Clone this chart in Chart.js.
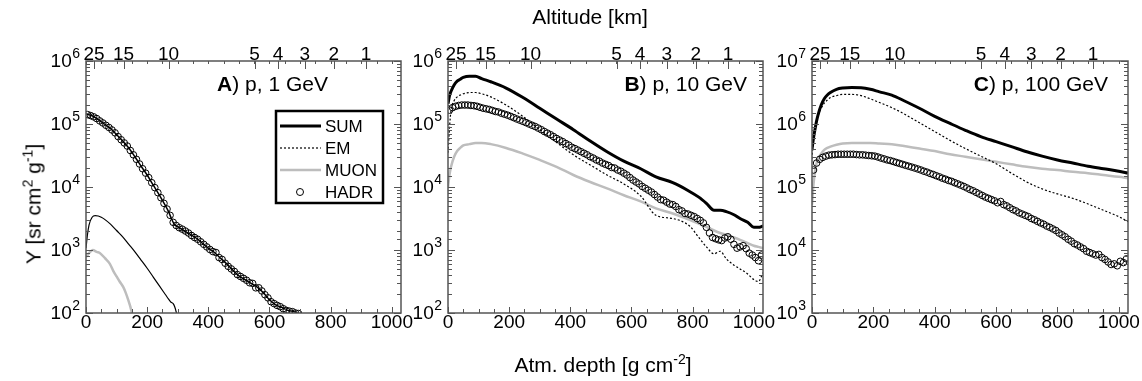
<!DOCTYPE html>
<html>
<head>
<meta charset="utf-8">
<script src="https://cdn.jsdelivr.net/npm/chart.js@4.4.1/dist/chart.umd.min.js"></script>
<style>
  body { margin: 0; background: #fff; width: 1142px; height: 381px; overflow: hidden; position: relative;
         font-family: "Liberation Sans", Arial, Helvetica, sans-serif; }
  canvas { position: absolute; top: 30px; }
  .lbl { position: absolute; font-size: 21px; line-height: 1; color: #000; white-space: nowrap; }
  .lbl sup { font-size: 14px; vertical-align: 0.55em; line-height: 0; }
</style>
</head>
<body>
<canvas id="pA" width="390" height="320" style="left:30px"></canvas>
<canvas id="pB" width="390" height="320" style="left:392px"></canvas>
<canvas id="pC" width="386" height="320" style="left:756px"></canvas>
<div class="lbl" style="left:590px;top:16px;transform:translate(-50%,-50%)">Altitude [km]</div>
<div class="lbl" style="left:603px;top:364px;transform:translate(-50%,-50%)">Atm. depth [g cm<sup>-2</sup>]</div>
<div class="lbl" style="left:33px;top:204px;transform:translate(-50%,-50%) rotate(-90deg)">Y [sr cm<sup>2</sup> g<sup>-1</sup>]</div>
<script>
// ---- data (depth in g/cm2, Y in sr cm2 g-1) ----
const seriesNames = ['SUM', 'EM', 'MUON', 'HADR'];

// bottom axis labels, top axis altitude labels and the depth they sit at
const depthTicks = [0, 200, 400, 600, 800, 1000];
const altLabels = ['25', '15', '10', '5', '4', '3', '2', '1'];
const altDepth = [26, 123, 270, 551, 628, 715, 810, 916];

// panel A: p, 1 GeV
const hadrDepthA = [5,15,25,35,45,55,65,75,85,95,105,115,125,135,145,155,165,175,185,195,
  205,215,225,235,245,255,265,275,285,295,305,315,325,335,345,355,365,375,385,395,
  405,415,425,435,445,455,465,475,485,495,505,515,525,535,545,555,565,575,585,595,
  605,615,625,635,645,655,665,675,685,695];
const hadrA = [1.41e5,1.36e5,1.30e5,1.22e5,1.12e5,1.04e5,9.55e4,8.81e4,8.04e4,7.24e4,
  6.31e4,5.62e4,5.01e4,4.47e4,3.80e4,3.24e4,2.75e4,2.32e4,1.95e4,1.66e4,
  1.41e4,1.17e4,9.77e3,8.13e3,6.76e3,5.50e3,4.47e3,3.55e3,2.75e3,2.45e3,
  2.26e3,2.14e3,2.00e3,1.86e3,1.70e3,1.58e3,1.48e3,1.35e3,1.23e3,1.12e3,
  1.02e3,944,912,759,708,617,550,501,457,407,
  380,355,331,302,295,251,251,224,195,174,
  151,141,132,126,117,110,107,105,100,98];
const sumDepthA = [0,20,40,60,80,100,120,140,160,180,200,220,240,260,270,280,290,300,320,340,
  360,380,400,420,440,460,480,500,520,540,560,580,600,620,640,660,680,700,720];
const sumA = [1.45e5,1.35e5,1.17e5,1.00e5,8.51e4,6.76e4,5.37e4,4.17e4,3.02e4,2.14e4,
  1.55e4,1.07e4,7.41e3,5.01e3,4.07e3,3.09e3,2.51e3,2.34e3,2.04e3,1.78e3,
  1.55e3,1.29e3,1.07e3,912,741,603,479,389,339,295,
  257,209,162,135,123,110,105,95,79];
const emDepthA = [0,5,10,20,30,40,50,60,80,100,120,140,160,180,200,220,240,260,270,278,285,290,296];
const emA = [1070,1780,2510,3310,3510,3470,3310,3090,2570,2040,1620,1230,933,692,513,372,269,195,166,148,141,126,100];
const muonDepthA = [0,10,22,35,46,62,78,90,100,110,122,130,138,145,150];
const muonA = [776,891,1000,933,891,741,603,457,380,316,257,209,162,126,100];

// panels B and C share the hadron sampling depths
const hadrDepthBC = [5,15,25,35,45,55,65,75,85,95,105,115,125,135,145,155,165,175,185,195,
  205,215,225,235,245,255,265,275,285,295,305,315,325,335,345,355,365,375,385,395,
  405,415,425,435,445,455,465,475,485,495,505,515,525,535,545,555,565,575,585,595,
  605,615,625,635,645,655,665,675,685,695,705,715,725,735,745,755,765,775,785,795,
  805,815,825,835,845,855,865,875,885,895,905,915,925,935,945,955,965,975,985,995,
  1005,1015,1025];

// panel B: p, 10 GeV
const lineDepthB = [0,5,10,20,30,40,50,70,90,110,140,190,245,300,355,410,465,520,575,630,
  680,735,790,820,845,870,890,910,935,955,980,1000,1015,1030];
const sumB = [2.09e5,2.82e5,3.31e5,4.17e5,4.79e5,5.13e5,5.50e5,5.75e5,5.75e5,5.25e5,
  4.68e5,3.72e5,2.63e5,1.78e5,1.20e5,8.13e4,5.37e4,3.63e4,2.57e4,1.95e4,
  1.45e4,1.17e4,8.50e3,6.90e3,5.50e3,4.27e3,4.27e3,4.07e3,3.63e3,3.16e3,
  2.75e3,2.29e3,2.29e3,2.40e3];
const emB = [3.5e4,8.9e4,1.66e5,2.34e5,2.69e5,2.88e5,3.02e5,3.16e5,3.16e5,3.02e5,
  2.69e5,2.00e5,1.32e5,8.10e4,5.10e4,3.24e4,2.24e4,1.55e4,1.12e4,7.20e3,
  3.55e3,3.16e3,2.40e3,1.58e3,1.12e3,870,955,724,575,500,
  417,339,316,437];
const muonB = [1.00e4,1.58e4,2.09e4,3.02e4,3.72e4,4.17e4,4.57e4,4.79e4,5.00e4,5.00e4,
  4.79e4,4.17e4,3.39e4,2.69e4,2.09e4,1.55e4,1.20e4,9.50e3,7.40e3,5.90e3,
  4.57e3,3.80e3,3.00e3,2.63e3,2.34e3,2.04e3,1.86e3,1.74e3,1.58e3,1.45e3,
  1.29e3,1.17e3,1.12e3,1.07e3];
const hadrB = [1.66e5,1.82e5,1.91e5,1.97e5,2.00e5,2.00e5,2.00e5,1.97e5,1.95e5,1.91e5,
  1.84e5,1.78e5,1.74e5,1.70e5,1.64e5,1.58e5,1.55e5,1.48e5,1.43e5,1.38e5,
  1.32e5,1.26e5,1.20e5,1.15e5,1.10e5,1.05e5,1.00e5,9.55e4,9.12e4,8.61e4,
  8.13e4,7.59e4,7.16e4,6.76e4,6.31e4,5.89e4,5.56e4,5.25e4,4.90e4,4.62e4,
  4.27e4,4.07e4,3.85e4,3.63e4,3.43e4,3.24e4,3.02e4,2.88e4,2.69e4,2.57e4,
  2.40e4,2.29e4,2.19e4,2.04e4,2.00e4,1.86e4,1.78e4,1.66e4,1.55e4,1.41e4,
  1.29e4,1.20e4,1.12e4,1.02e4,9.55e3,8.91e3,8.32e3,7.59e3,6.92e3,6.31e3,
  6.17e3,5.75e3,5.37e3,5.25e3,4.90e3,4.37e3,4.17e3,3.80e3,3.72e3,3.55e3,
  3.39e3,3.16e3,2.95e3,2.69e3,2.29e3,1.86e3,1.58e3,1.51e3,1.45e3,1.41e3,
  1.55e3,1.62e3,1.48e3,1.23e3,1.07e3,1.12e3,1.17e3,1.05e3,891,832,
  759,676,832];

// panel C: p, 100 GeV
const lineDepthC = [0,5,10,15,20,30,40,50,60,80,100,130,160,190,220,260,300,350,400,450,
  500,550,600,650,700,750,800,850,900,950,1000,1030];
const sumC = [3.98e5,6.03e5,8.32e5,1.12e6,1.41e6,2.00e6,2.51e6,2.88e6,3.16e6,3.55e6,
  3.72e6,3.80e6,3.76e6,3.55e6,3.24e6,2.88e6,2.34e6,1.78e6,1.32e6,1.02e6,
  7.94e5,6.31e5,5.25e5,4.37e5,3.63e5,3.09e5,2.69e5,2.40e5,2.14e5,1.95e5,
  1.78e5,1.66e5];
const emC = [2.82e5,5.62e5,8.51e5,1.12e6,1.35e6,1.78e6,2.14e6,2.40e6,2.63e6,2.82e6,
  2.95e6,2.95e6,2.82e6,2.51e6,2.19e6,1.82e6,1.45e6,1.05e6,7.59e5,5.50e5,
  4.07e5,3.09e5,2.34e5,1.66e5,1.20e5,9.33e4,7.76e4,6.61e4,5.37e4,4.27e4,
  3.39e4,2.82e4];
const muonC = [5.25e4,1.12e5,1.78e5,2.40e5,2.82e5,3.39e5,3.89e5,4.17e5,4.37e5,4.68e5,
  4.90e5,5.01e5,5.01e5,5.01e5,4.90e5,4.79e5,4.47e5,4.07e5,3.72e5,3.31e5,
  3.02e5,2.75e5,2.51e5,2.29e5,2.09e5,1.95e5,1.86e5,1.74e5,1.66e5,1.55e5,
  1.45e5,1.38e5];
const hadrC = [1.86e5,2.40e5,2.75e5,2.95e5,3.09e5,3.20e5,3.24e5,3.27e5,3.31e5,3.31e5,
  3.31e5,3.31e5,3.31e5,3.31e5,3.27e5,3.24e5,3.24e5,3.20e5,3.16e5,3.13e5,
  3.09e5,2.99e5,2.88e5,2.79e5,2.69e5,2.63e5,2.54e5,2.45e5,2.37e5,2.29e5,
  2.21e5,2.14e5,2.07e5,2.00e5,1.93e5,1.86e5,1.78e5,1.72e5,1.64e5,1.58e5,
  1.51e5,1.45e5,1.38e5,1.33e5,1.27e5,1.23e5,1.17e5,1.12e5,1.07e5,1.02e5,
  9.66e4,9.12e4,8.71e4,8.22e4,7.76e4,7.33e4,6.92e4,6.61e4,6.31e4,6.03e4,
  5.62e4,5.89e4,5.25e4,5.01e4,4.68e4,4.37e4,4.17e4,3.89e4,3.72e4,3.55e4,
  3.39e4,3.16e4,3.02e4,2.85e4,2.69e4,2.57e4,2.40e4,2.29e4,2.16e4,2.04e4,
  1.86e4,1.74e4,1.62e4,1.48e4,1.38e4,1.26e4,1.20e4,1.12e4,1.05e4,9.55e3,
  9.12e3,8.71e3,8.32e3,8.51e3,7.59e3,7.08e3,6.46e3,5.89e3,6.03e3,5.62e3,
  6.61e3,6.31e3,7.24e3];

// ---- drawing ----
const FONT = '"Liberation Sans", Arial, Helvetica, sans-serif';
Chart.defaults.font.family = FONT;
Chart.defaults.color = '#000';
const MUON_GREY = '#bdbdbd';

function pts(xs, ys) {
  return ys.map((y, i) => ({ x: xs[i], y: y }));
}

// frame, inward ticks, 10^n labels, panel tag and legend
const frame = {
  id: 'frame',
  afterDraw(chart, args, o) {
    const { ctx, chartArea: a } = chart;
    const x = chart.scales.x, y = chart.scales.y;
    ctx.save();
    ctx.strokeStyle = '#555';
    ctx.lineWidth = 1;
    ctx.beginPath();
    for (let v = 0; v <= 1000; v += 50) {
      const px = Math.round(x.getPixelForValue(v)) + 0.5;
      const len = v % 200 === 0 ? 6 : 4;
      ctx.moveTo(px, a.bottom); ctx.lineTo(px, a.bottom - len);
      ctx.moveTo(px, a.top); ctx.lineTo(px, a.top + 3);
    }
    altDepth.forEach(v => {
      const px = Math.round(x.getPixelForValue(v)) + 0.5;
      ctx.moveTo(px, a.top); ctx.lineTo(px, a.top + 8);
    });
    const majors = [];
    y.ticks.forEach(t => {
      const e = Math.log10(t.value);
      const major = Math.abs(e - Math.round(e)) < 1e-6;
      if (major) majors.push(Math.round(e));
      const py = Math.round(y.getPixelForValue(t.value)) + 0.5;
      const len = major ? 7 : 4;
      ctx.moveTo(a.left, py); ctx.lineTo(a.left + len, py);
      ctx.moveTo(a.right, py); ctx.lineTo(a.right - len, py);
    });
    ctx.stroke();
    ctx.lineWidth = 1.5;
    ctx.strokeRect(a.left, a.top, a.width, a.height);

    // y labels 10^n
    ctx.fillStyle = '#000';
    ctx.textBaseline = 'middle';
    majors.forEach(e => {
      const py = y.getPixelForValue(Math.pow(10, e));
      ctx.font = '14px ' + FONT;
      const sw = ctx.measureText(String(e)).width;
      ctx.textAlign = 'left';
      ctx.fillText(String(e), a.left - 6 - sw, py - 7);
      ctx.font = '19px ' + FONT;
      ctx.textAlign = 'right';
      ctx.fillText('10', a.left - 6 - sw - 0.5, py + 1);
    });

    // panel tag
    ctx.textAlign = 'left';
    ctx.font = 'bold 21px ' + FONT;
    const w1 = ctx.measureText(o.tag).width;
    ctx.font = '21px ' + FONT;
    const w2 = ctx.measureText(o.text).width;
    const tx = a.right - o.dx - w1 - w2, ty = a.top + 24;
    ctx.font = 'bold 21px ' + FONT;
    ctx.fillText(o.tag, tx, ty);
    ctx.font = '21px ' + FONT;
    ctx.fillText(o.text, tx + w1, ty);

    if (o.legend) {
      const bx = a.left + 190, by = a.top + 50, bw = 107, bh = 92;
      ctx.strokeStyle = '#000';
      ctx.lineWidth = 2.5;
      ctx.strokeRect(bx, by, bw, bh);
      ctx.font = '17px ' + FONT;
      seriesNames.forEach((name, i) => {
        const ry = by + 15 + i * 22;
        ctx.setLineDash([]);
        ctx.beginPath();
        if (name === 'HADR') {
          ctx.lineWidth = 1;
          ctx.strokeStyle = '#000';
          ctx.arc(bx + 24, ry, 3.5, 0, Math.PI * 2);
        } else {
          ctx.lineWidth = name === 'SUM' ? 3 : name === 'EM' ? 1.2 : 2.5;
          ctx.strokeStyle = name === 'MUON' ? MUON_GREY : '#000';
          if (name === 'EM') ctx.setLineDash([2, 2]);
          ctx.moveTo(bx + 4, ry); ctx.lineTo(bx + 45, ry);
        }
        ctx.stroke();
        ctx.fillText(name, bx + 49, ry + 1);
      });
    }
    ctx.restore();
  }
};

function makePanel(id, p) {
  const datasets = [
    { label: 'SUM', data: pts(p.sumX, p.sum), showLine: true, pointRadius: 0,
      borderColor: '#000', borderWidth: p.sumWidth, cubicInterpolationMode: 'monotone' },
    { label: 'HADR', data: pts(p.hadrX, p.hadr), showLine: false, pointRadius: 3.3,
      pointBorderWidth: 1, pointBorderColor: '#000', pointBackgroundColor: 'rgba(0,0,0,0)' },
    { label: 'EM', data: pts(p.emX, p.em), showLine: true, pointRadius: 0,
      borderColor: '#000', borderWidth: 1.2, borderDash: p.emDash, cubicInterpolationMode: 'monotone' },
    { label: 'MUON', data: pts(p.muonX, p.muon), showLine: true, pointRadius: 0,
      borderColor: MUON_GREY, borderWidth: 2.5, cubicInterpolationMode: 'monotone' }
  ];
  const noGrid = { display: false, drawTicks: false, tickLength: 0 };
  return new Chart(document.getElementById(id), {
    type: 'scatter',
    data: { datasets: datasets },
    options: {
      responsive: false,
      animation: false,
      devicePixelRatio: 1,
      layout: { padding: { left: 0, right: p.padRight, top: 0, bottom: 0 } },
      plugins: {
        legend: { display: false },
        tooltip: { enabled: false },
        frame: { tag: p.tag, text: p.text, dx: p.tagDx, legend: p.legend }
      },
      scales: {
        x: {
          type: 'linear', position: 'bottom', min: 0, max: 1030,
          grid: noGrid, border: { display: false },
          afterBuildTicks(s) { s.ticks = depthTicks.map(v => ({ value: v })); },
          ticks: { callback: v => String(v), font: { size: 19 }, padding: -2,
                   maxRotation: 0, autoSkip: false },
          afterFit(s) { s.height = 37; s.paddingLeft = 0; s.paddingRight = 0; }
        },
        x2: {
          type: 'linear', axis: 'x', position: 'top', min: 0, max: 1030,
          grid: noGrid, border: { display: false },
          afterBuildTicks(s) { s.ticks = altDepth.map(v => ({ value: v })); },
          ticks: { callback: (v, i) => altLabels[i], font: { size: 19 }, padding: -5,
                   maxRotation: 0, autoSkip: false },
          afterFit(s) { s.height = 31; s.paddingLeft = 0; s.paddingRight = 0; }
        },
        y: {
          type: 'logarithmic', position: 'left', min: p.yMin, max: p.yMax,
          grid: noGrid, border: { display: false },
          ticks: { display: false },
          afterFit(s) { s.width = 56; }
        }
      }
    },
    plugins: [frame]
  });
}

makePanel('pA', {
  tag: 'A', text: ') p, 1 GeV', tagDx: 73, legend: true, yMin: 1e2, yMax: 1e6, padRight: 19,
  sumX: sumDepthA, sum: sumA, sumWidth: 1.5, hadrX: hadrDepthA, hadr: hadrA,
  emX: emDepthA, em: emA, emDash: [], muonX: muonDepthA, muon: muonA
});
makePanel('pB', {
  tag: 'B', text: ') p, 10 GeV', tagDx: 16, legend: false, yMin: 1e2, yMax: 1e6, padRight: 19,
  sumX: lineDepthB, sum: sumB, sumWidth: 3, hadrX: hadrDepthBC, hadr: hadrB,
  emX: lineDepthB, em: emB, emDash: [2, 2], muonX: lineDepthB, muon: muonB
});
makePanel('pC', {
  tag: 'C', text: ') p, 100 GeV', tagDx: 20, legend: false, yMin: 1e3, yMax: 1e7, padRight: 14,
  sumX: lineDepthC, sum: sumC, sumWidth: 3, hadrX: hadrDepthBC, hadr: hadrC,
  emX: lineDepthC, em: emC, emDash: [2, 2], muonX: lineDepthC, muon: muonC
});
</script>
</body>
</html>
